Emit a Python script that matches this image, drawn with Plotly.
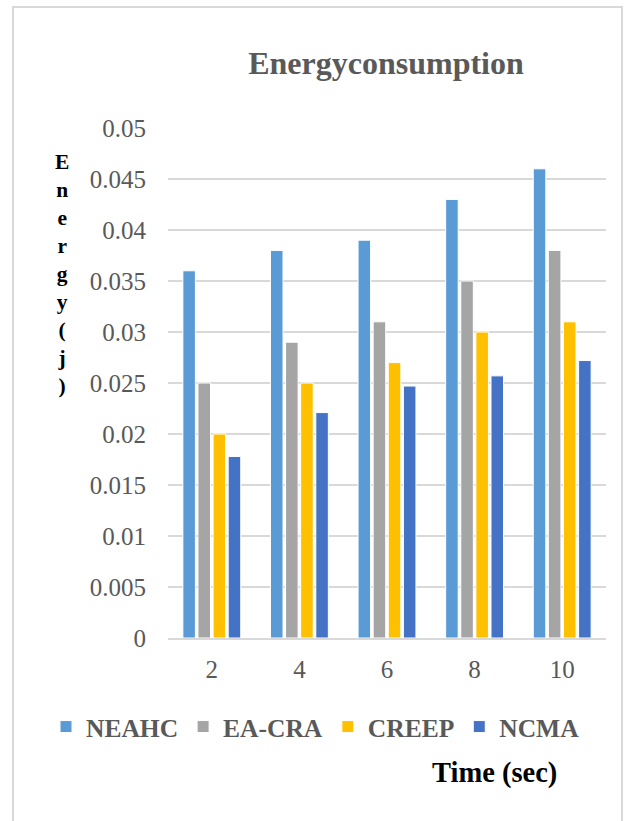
import plotly.graph_objects as go

categories = ["2", "4", "6", "8", "10"]
neahc = [0.036, 0.038, 0.039, 0.043, 0.046]
ea_cra = [0.025, 0.029, 0.031, 0.035, 0.038]
creep = [0.020, 0.025, 0.027, 0.030, 0.031]
ncma = [0.0178, 0.0221, 0.0247, 0.0257, 0.0272]

series_names = ["NEAHC", "EA-CRA", "CREEP", "NCMA"]
series_values = [neahc, ea_cra, creep, ncma]
colors = ["#5B9BD5", "#A5A5A5", "#FFC000", "#4472C4"]

ytick_vals = [0, 0.005, 0.01, 0.015, 0.02, 0.025, 0.03, 0.035, 0.04, 0.045, 0.05]
ytick_text = ["0", "0.005", "0.01", "0.015", "0.02", "0.025", "0.03", "0.035", "0.04", "0.045", "0.05"]

FONT = "Liberation Serif"
W, H = 624, 821
L, R, T, B = 168, 18, 128, 183
pw, ph = W - L - R, H - T - B

def px(x):
    return (x - L) / pw

def py(y):
    return (H - B - y) / ph

fig = go.Figure()
for name, vals, c in zip(series_names, series_values, colors):
    fig.add_trace(go.Bar(x=categories, y=vals, name="<b>" + name + "</b>",
                         marker=dict(color=c, line=dict(color="white", width=1))))

fig.update_layout(
    width=W, height=H,
    margin=dict(l=L, r=R, t=T, b=B, autoexpand=False),
    paper_bgcolor="white", plot_bgcolor="white",
    barmode="group", bargap=0.31, bargroupgap=0.17,
    font=dict(family=FONT, color="#595959"),
    title=dict(text="<b>Energyconsumption</b>", x=386 / W, xref="container", xanchor="center",
               y=1 - 63 / H, yref="container", yanchor="middle",
               font=dict(size=32, color="#595959", family=FONT)),
    legend=dict(orientation="h", xref="paper", x=px(46), xanchor="left",
                y=py(727), yanchor="middle",
                font=dict(size=25.5, color="#595959", family=FONT), traceorder="normal"),
    showlegend=True,
)
fig.update_yaxes(range=[0, 0.05], tickvals=ytick_vals, ticktext=ytick_text,
                 showgrid=True, gridcolor="#d9d9d9", gridwidth=1.5, zeroline=False,
                 showline=False, ticks="", ticklabelstandoff=21, automargin=False,
                 tickfont=dict(size=25, color="#595959", family=FONT))
fig.update_xaxes(showgrid=False, showline=True, linecolor="#d9d9d9", linewidth=1.5,
                 ticks="", ticklabelstandoff=8, automargin=False,
                 tickfont=dict(size=25, color="#595959", family=FONT))

fig.add_annotation(text="<b>E<br>n<br>e<br>r<br>g<br>y<br>(<br>j<br>)</b>",
                   xref="paper", yref="paper", x=px(62), y=py(274),
                   xanchor="center", yanchor="middle", showarrow=False, align="center",
                   font=dict(size=21.5, color="black", family=FONT))
fig.add_annotation(text="<b>Time (sec)</b>", xref="paper", yref="paper",
                   x=px(494), y=py(773), xanchor="center", yanchor="middle",
                   showarrow=False, font=dict(size=28.5, color="black", family=FONT))

fig.add_shape(type="rect", xref="paper", yref="paper",
              x0=px(13), x1=px(622), y0=py(840), y1=py(7),
              line=dict(color="#d9d9d9", width=2), fillcolor="rgba(0,0,0,0)", layer="below")

fig.write_html("out.html")
